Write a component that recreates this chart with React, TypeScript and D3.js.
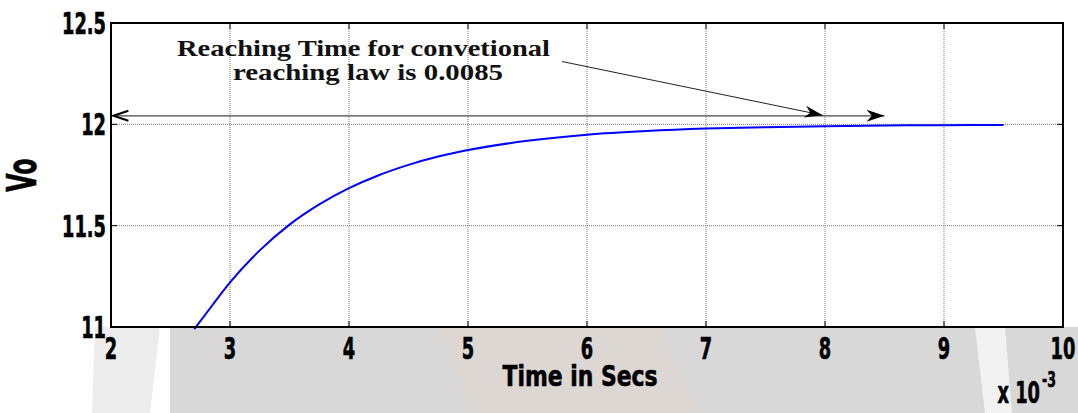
import * as d3 from 'd3'

// time axis is in units of 1e-3 s
const timeMs = [2.7, 2.85, 3.0, 3.25, 3.5, 3.75, 4.0, 4.25, 4.5, 4.75, 5.0, 5.5, 6.0, 6.5, 7.0, 7.5, 8.0, 8.5, 9.0, 9.5]
const voltage = [10.99, 11.106, 11.22, 11.378, 11.505, 11.605, 11.685, 11.749, 11.8, 11.841, 11.873, 11.919, 11.949, 11.967, 11.979, 11.986, 11.991, 11.994, 11.996, 11.997]

const xTicks = [2, 3, 4, 5, 6, 7, 8, 9, 10]
const yTicks = [11, 11.5, 12, 12.5]
const yTickLabels = ['11', '11.5', '12', '12.5']

const noteLines = ['Reaching Time for convetional', 'reaching law is 0.0085']
const spanArrow = [[2.02, 12.042], [8.5, 12.042]]
const pointerArrow = [[5.79, 12.31], [7.98, 12.045]]

const W = 1078
const H = 413
const margin = { top: 23, right: 15, bottom: 86, left: 111 }

const tickFont = '"DejaVu Sans Condensed", "DejaVu Sans", sans-serif'
const squeeze = 0.66

function filledHead(tip: number[], from: number[], len = 18, half = 6) {
  const a = Math.atan2(tip[1] - from[1], tip[0] - from[0])
  const cos = Math.cos(a)
  const sin = Math.sin(a)
  const p = (dx: number, dy: number) => [tip[0] + dx * cos - dy * sin, tip[1] + dx * sin + dy * cos]
  const pts = [p(0, 0), p(-len, -half), p(-len * 0.7, 0), p(-len, half)]
  return 'M' + pts.map(q => q.join(',')).join('L') + 'Z'
}

// narrow bold label, squeezed horizontally around its anchor
function Narrow({ x, y, anchor, size, children }: { x: number; y: number; anchor: string; size: number; children: any }) {
  return (
    <text transform={`translate(${x},${y}) scale(${squeeze},1)`} textAnchor={anchor} fontSize={size}>
      {children}
    </text>
  )
}

export default function App() {
  const x = d3.scaleLinear().domain([2, 10]).range([margin.left, W - margin.right])
  const y = d3.scaleLinear().domain([11, 12.5]).range([H - margin.bottom, margin.top])
  const [x0, x1] = x.range()
  const [y0, y1] = y.range()

  const line = d3.line<number>()
    .x((_, i) => x(timeMs[i]))
    .y(d => y(d))
    .curve(d3.curveMonotoneX)

  const sa = spanArrow.map(([a, b]) => [x(a), y(b)])
  const pa = pointerArrow.map(([a, b]) => [x(a), y(b)])

  return (
    <svg width={W} height={H} style={{ position: 'absolute', left: 0, top: 0, background: '#fff' }}>
      {/* faint watermark behind the lower margin */}
      <g>
        <rect x={170} y={y0} width={W - 170} height={H - y0} fill="#d8d8d8" />
        <path d="M95,327 L160,327 L150,413 L92,413 Z" fill="#ececec" />
        <path d="M440,327 L660,327 L700,413 L470,413 Z" fill="#e2d6cf" opacity={0.5} />
        <path d="M975,327 L1005,327 L1012,413 L985,413 Z" fill="#f2f2f2" />
      </g>

      <rect x={x0} y={y1} width={x1 - x0} height={y0 - y1} fill="#fff" />

      {/* grid */}
      <g stroke="#7a7a7a" strokeWidth={1} strokeDasharray="1,1">
        {xTicks.slice(1, -1).map(t => (
          <line key={'gx' + t} x1={x(t)} x2={x(t)} y1={y1} y2={y0} />
        ))}
        {yTicks.slice(1, -1).map(t => (
          <line key={'gy' + t} x1={x0} x2={x1} y1={y(t)} y2={y(t)} />
        ))}
      </g>

      {/* ticks, inside the box */}
      <g stroke="#000" strokeWidth={1}>
        {xTicks.map(t => (
          <g key={'tx' + t}>
            <line x1={x(t)} x2={x(t)} y1={y0} y2={y0 - 6} />
            <line x1={x(t)} x2={x(t)} y1={y1} y2={y1 + 6} />
          </g>
        ))}
        {yTicks.map(t => (
          <g key={'ty' + t}>
            <line x1={x0} x2={x0 + 6} y1={y(t)} y2={y(t)} />
            <line x1={x1} x2={x1 - 6} y1={y(t)} y2={y(t)} />
          </g>
        ))}
      </g>

      <path d={line(voltage) || ''} fill="none" stroke="#0000ff" strokeWidth={2} />

      <rect x={x0} y={y1} width={x1 - x0} height={y0 - y1} fill="none" stroke="#000" strokeWidth={2} />

      {/* double arrow along the 12 V level */}
      <line x1={sa[0][0]} y1={sa[0][1]} x2={sa[1][0]} y2={sa[1][1]} stroke="#444" strokeWidth={1.2} />
      <path
        d={`M${sa[0][0] + 15},${sa[0][1] - 5}L${sa[0][0]},${sa[0][1]}L${sa[0][0] + 15},${sa[0][1] + 5}`}
        fill="none" stroke="#000" strokeWidth={2}
      />
      <path d={filledHead(sa[1], sa[0])} fill="#000" />

      {/* pointer from note */}
      <line x1={pa[0][0]} y1={pa[0][1]} x2={pa[1][0]} y2={pa[1][1]} stroke="#222" strokeWidth={1} />
      <path d={filledHead(pa[1], pa[0])} fill="#000" />

      <g fontFamily='"Liberation Serif", "Times New Roman", serif' fontWeight="bold" fontSize={23} fill="#111">
        <text x={177} y={56} textLength={373} lengthAdjust="spacingAndGlyphs">{noteLines[0]}</text>
        <text x={233} y={80} textLength={270} lengthAdjust="spacingAndGlyphs">{noteLines[1]}</text>
      </g>

      {/* tick labels */}
      <g fontFamily={tickFont} fontWeight="bold" fill="#000" stroke="#000" strokeWidth={0.6}>
        {yTicks.map((t, i) => (
          <Narrow key={'ly' + t} x={106} y={y(t) + 11} anchor="end" size={30}>{yTickLabels[i]}</Narrow>
        ))}
        {xTicks.map(t => (
          <Narrow key={'lx' + t} x={x(t)} y={359} anchor="middle" size={30}>{t}</Narrow>
        ))}
        <text x={580} y={386} textAnchor="middle" fontSize={29} textLength={155} lengthAdjust="spacingAndGlyphs">Time in Secs</text>
        <g transform="translate(36,175) rotate(-90)">
          <Narrow x={0} y={0} anchor="middle" size={40}>Vo</Narrow>
        </g>
        <Narrow x={1040} y={403} anchor="end" size={30}>x 10</Narrow>
        <Narrow x={1042} y={387} anchor="start" size={21}>-3</Narrow>
      </g>
    </svg>
  )
}
